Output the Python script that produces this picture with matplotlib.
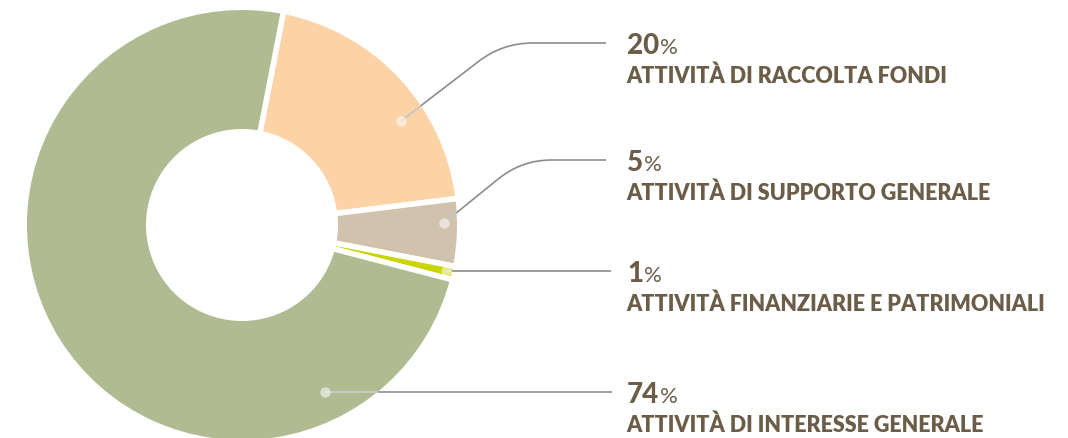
import numpy as np
import matplotlib
matplotlib.use("Agg")
import matplotlib.pyplot as plt
from matplotlib.path import Path
from matplotlib.patches import PathPatch

# quote per area di attività
percentuali = [20, 5, 1, 74]
categorie = [
    "ATTIVITÀ DI RACCOLTA FONDI",
    "ATTIVITÀ DI SUPPORTO GENERALE",
    "ATTIVITÀ FINANZIARIE E PATRIMONIALI",
    "ATTIVITÀ DI INTERESSE GENERALE",
]
colori = ["#fcd3a6", "#d1c2ad", "#c9d400", "#b0bb91"]

# impaginazione (pixel, y dall'alto)
W, H = 1068, 438
centro = (242, 225)
r_est, r_int = 215, 96
gap = 5.5
punto_ang = [33.2, 0.6, -12.7, -63.6]     # dove parte la linea guida
punto_r = [190, 202, 209, 186]
guida_ang = [37.5, 39, 0, 0]              # inclinazione del tratto iniziale
guida_y = [43, 160, 271, 392]
guida_fine = [606, 606, 611, 612]
testo_x = 626
col_testo = "#6b5d48"
col_linea = "#8c8c8c"
font = ["Lato", "DejaVu Sans"]


def py(y):
    return H - y


fig = plt.figure(figsize=(W / 100, H / 100), dpi=100)
ax = fig.add_axes([0, 0, 1, 1])

lw = gap * 72 / 100
ax.pie(percentuali, colors=colori, startangle=79, counterclock=False,
       center=(centro[0], py(centro[1])), radius=r_est + gap / 2,
       wedgeprops=dict(width=r_est - r_int + gap, edgecolor="white", linewidth=lw),
       frame=True)
ax.set_xlim(0, W)
ax.set_ylim(0, H)
ax.set_aspect("equal")
ax.set_axis_off()

cx, cy = centro[0], py(centro[1])
for i in range(len(percentuali)):
    a = np.radians(punto_ang[i])
    px_, py_ = cx + punto_r[i] * np.cos(a), cy + punto_r[i] * np.sin(a)
    gy = py(guida_y[i])
    d = np.radians(guida_ang[i])
    u = np.array([np.cos(d), np.sin(d)])
    if guida_ang[i] == 0:
        verts = [(px_, gy), (guida_fine[i], gy)]
        codes = [Path.MOVETO, Path.LINETO]
    else:
        t = (gy - py_) / u[1]
        k = np.array([px_, py_]) + t * u
        curva = 30
        p1 = k - curva * u
        p2 = k + np.array([curva, 0])
        verts = [(px_, py_), tuple(p1), tuple(k), tuple(p2), (guida_fine[i], gy)]
        codes = [Path.MOVETO, Path.LINETO, Path.CURVE3, Path.CURVE3, Path.LINETO]
    ax.add_patch(PathPatch(Path(verts, codes), fill=False, edgecolor=col_linea,
                           linewidth=1.2, capstyle="butt", zorder=3))

    # tratto chiaro dentro la fetta
    p = np.array([px_, py_]) - np.array([cx, cy])
    b = p @ u
    t_out = -b + np.sqrt(b * b - (p @ p - r_est ** 2))
    q = np.array([px_, py_]) + t_out * u
    ax.plot([px_, q[0]], [py_, q[1]], color="white", alpha=0.5, lw=1.4,
            solid_capstyle="butt", zorder=4)
    ax.plot(px_, py_, "o", ms=7.5, color="white", alpha=0.55, mec="none", zorder=5)

    # etichette
    num = ax.text(testo_x + 1, py(guida_y[i] + 11), str(percentuali[i]),
                  family=font, weight="black", fontsize=20, color=col_testo,
                  ha="left", va="baseline")
    ax.text(testo_x, py(guida_y[i] + 40), categorie[i], family=font,
            weight="heavy", fontsize=15.5, color=col_testo, ha="left", va="baseline")
    fig.canvas.draw()
    bb = num.get_window_extent()
    ax.text(bb.x1 + 1, py(guida_y[i] + 11), "%", family=font, fontsize=16,
            color=col_testo, ha="left", va="baseline")

fig.savefig("out.png", dpi=100, facecolor="white")
